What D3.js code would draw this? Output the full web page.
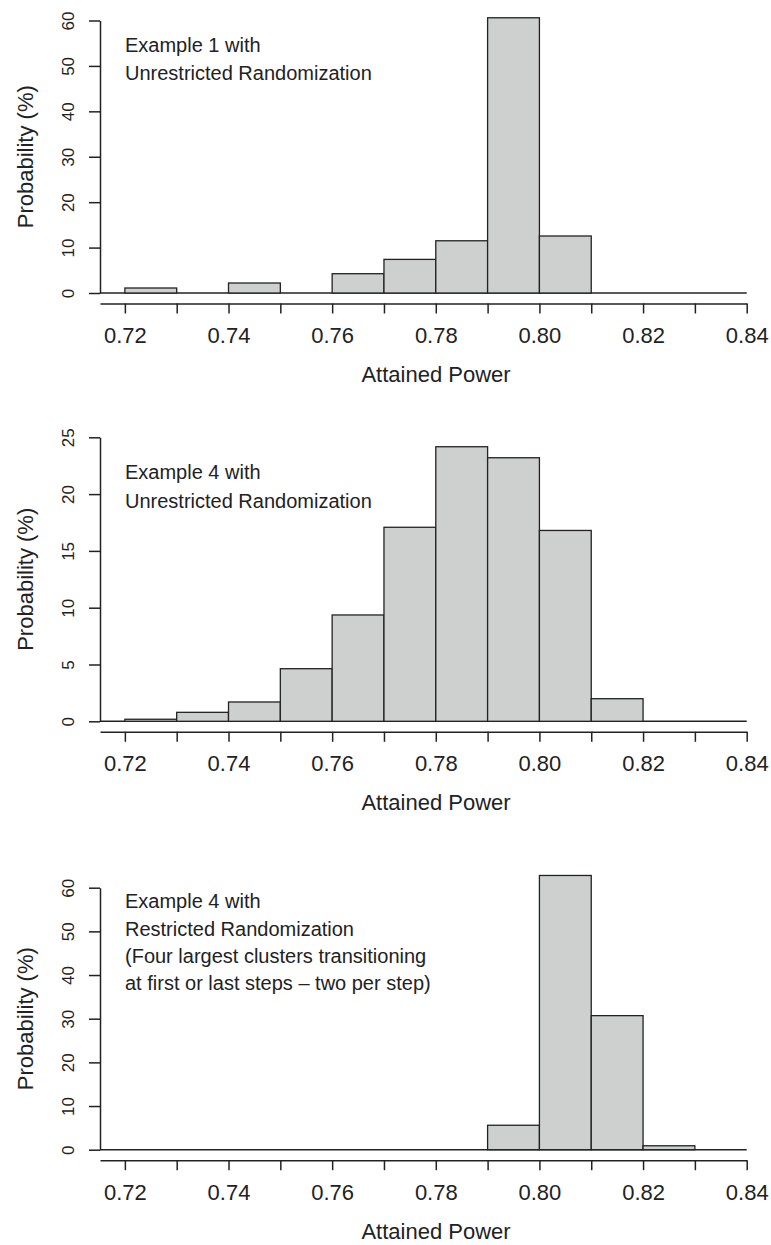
<!DOCTYPE html>
<html lang="en">
<head>
    <meta charset="UTF-8">
    <script src="https://d3js.org/d3.v7.min.js"></script>
    <title>Attained Power histograms</title>
    <style>
        body { margin: 0; background: #fff; }
        svg text { font-family: "Liberation Sans", Arial, Helvetica, sans-serif; fill: #222; }
    </style>
</head>
<body>
    <script>
        // bin starts (width 0.01)
        var binStarts = [0.72, 0.73, 0.74, 0.75, 0.76, 0.77, 0.78, 0.79, 0.80, 0.81, 0.82, 0.83];
        var binWidth = 0.01;

        // probabilities (%)
        var example1Unrestricted = [1.1, 0, 2.2, 0, 4.25, 7.4, 11.5, 60.6, 12.55, 0, 0, 0];
        var example4Unrestricted = [0.18, 0.79, 1.7, 4.63, 9.36, 17.08, 24.17, 23.2, 16.8, 1.99, 0, 0];
        var example4Restricted = [0, 0, 0, 0, 0, 0, 0, 5.6, 62.8, 30.7, 0.9, 0];

        var xTicks = [0.72, 0.73, 0.74, 0.75, 0.76, 0.77, 0.78, 0.79, 0.80, 0.81, 0.82, 0.83, 0.84];
        var yTicks1 = [0, 10, 20, 30, 40, 50, 60];
        var yTicks2 = [0, 5, 10, 15, 20, 25];
        var yTicks3 = [0, 10, 20, 30, 40, 50, 60];

        var notes1 = ["Example 1 with", "Unrestricted Randomization"];
        var notes2 = ["Example 4 with", "Unrestricted Randomization"];
        var notes3 = ["Example 4 with", "Restricted Randomization",
            "(Four largest clusters transitioning", "at first or last steps \u2013 two per step)"];

        var width = 771, height = 1245;

        var svg = d3.select("body").append("svg")
            .attr("width", width)
            .attr("height", height);

        // x scale shared by all panels (axis line starts a little left of 0.72)
        var x = d3.scaleLinear().domain([0.7152, 0.84]).range([100, 746.7]);

        var panels = [
            { values: example1Unrestricted, yTicks: yTicks1, notes: notes1, zeroY: 293, topY: 20.5, noteY: 51.7, noteGap: 28.5 },
            { values: example4Unrestricted, yTicks: yTicks2, notes: notes2, zeroY: 721.3, topY: 437.3, noteY: 479.3, noteGap: 29 },
            { values: example4Restricted, yTicks: yTicks3, notes: notes3, zeroY: 1149.7, topY: 887.7, noteY: 908.3, noteGap: 27.2 }
        ];

        panels.forEach(function (p) {
            var g = svg.append("g");
            var yMax = p.yTicks[p.yTicks.length - 1];
            var y = d3.scaleLinear().domain([0, yMax]).range([p.zeroY, p.topY]);

            var bins = binStarts.map(function (b, i) { return { x0: b, x1: b + binWidth, v: p.values[i] }; });

            // zero line
            g.append("line")
                .attr("x1", x.range()[0]).attr("x2", x(0.84))
                .attr("y1", y(0)).attr("y2", y(0))
                .attr("stroke", "#222").attr("stroke-width", 1.4);

            // bars
            g.selectAll("rect")
                .data(bins.filter(function (d) { return d.v > 0; }))
                .join("rect")
                .attr("x", function (d) { return x(d.x0); })
                .attr("width", function (d) { return x(d.x1) - x(d.x0); })
                .attr("y", function (d) { return y(d.v); })
                .attr("height", function (d) { return y(0) - y(d.v); })
                .attr("fill", "#cdd0ce")
                .attr("stroke", "#222")
                .attr("stroke-width", 1.3);

            // y axis
            var yAxis = g.append("g")
                .attr("transform", "translate(100,0)")
                .call(d3.axisLeft(y).tickValues(p.yTicks).tickSize(11).tickSizeOuter(0));
            yAxis.selectAll("text")
                .attr("x", null).attr("dy", null)
                .attr("text-anchor", "middle")
                .attr("transform", "translate(-26,0) rotate(-90)")
                .style("font-size", "17px");

            // x axis, offset below the bars
            var axisY = p.zeroY + 10.5;
            var xAxis = g.append("g")
                .attr("transform", "translate(0," + axisY + ")")
                .call(d3.axisBottom(x).tickValues(xTicks).tickSize(10).tickSizeOuter(0).tickPadding(14)
                    .tickFormat(function (d, i) { return i % 2 === 0 ? d3.format(".2f")(d) : ""; }));
            xAxis.selectAll("text").style("font-size", "22px");

            [yAxis, xAxis].forEach(function (a) {
                a.selectAll("path, line").attr("stroke", "#222").attr("stroke-width", 1.5);
            });

            // axis titles
            g.append("text")
                .attr("x", 436).attr("y", axisY + 78.5)
                .attr("text-anchor", "middle")
                .style("font-size", "22px")
                .text("Attained Power");

            g.append("text")
                .attr("transform", "translate(33," + ((y(0) + y(yMax)) / 2) + ") rotate(-90)")
                .attr("text-anchor", "middle")
                .style("font-size", "22px")
                .text("Probability (%)");

            // annotation
            g.selectAll("text.note")
                .data(p.notes)
                .join("text")
                .attr("class", "note")
                .attr("x", 125)
                .attr("y", function (d, i) { return p.noteY + i * p.noteGap; })
                .style("font-size", "20px")
                .text(function (d) { return d; });
        });
    </script>
</body>
</html>
